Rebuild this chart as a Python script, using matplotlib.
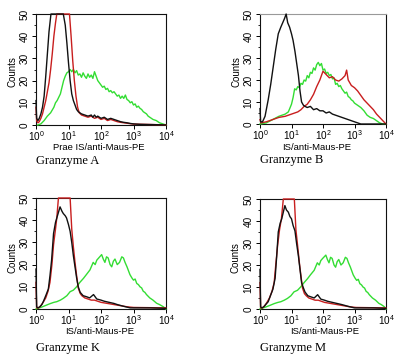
import numpy as np
import matplotlib
matplotlib.use('Agg')
import matplotlib.pyplot as plt
from matplotlib.ticker import LogLocator, NullFormatter

plt.rcParams['font.family'] = ['Liberation Sans', 'DejaVu Sans']
plt.rcParams['mathtext.default'] = 'regular'

VERDE = '#33dd33'
VERMELHO = '#c81e1e'
PRETO = '#111111'

# --- Granzyme A (log10 Intensitaet, Counts)
a_preto_lx = [0, 0.02, 0.06, 0.1, 0.15, 0.2, 0.25, 0.3, 0.35, 0.4, 0.46, 0.84, 0.9, 0.95, 1.0, 1.05, 1.1, 1.15, 1.2, 1.25,
              1.3, 1.4, 1.5, 1.6, 1.7, 1.75, 1.8, 1.85, 1.9, 2.0, 2.1, 2.2, 2.3, 2.4, 2.5, 2.6, 2.7, 2.8, 2.9, 3.0,
              3.2, 3.5, 3.8, 4.0]
a_preto_y = [11, 3, 2, 3, 5, 8, 13, 22, 32, 42, 50, 50, 45, 37, 28, 20, 14, 11, 9, 7,
             6, 5, 4.5, 4, 4.5, 3.5, 4.5, 3.5, 4, 3, 3.5, 2.5, 3, 2.5, 2, 1.5, 1.2, 1, 0.7, 0.5,
             0.3, 0.2, 0.1, 0]
a_verm_lx = [0, 0.02, 0.06, 0.1, 0.15, 0.2, 0.25, 0.3, 0.35, 0.4, 0.45, 0.5, 0.55, 0.6, 0.64, 1.03, 1.08, 1.13, 1.18, 1.23,
             1.28, 1.33, 1.4, 1.5, 1.6, 1.7, 1.8, 1.9, 2.0, 2.1, 2.2, 2.3, 2.4, 2.5, 2.6, 2.7, 2.8, 2.9, 3.0, 3.3,
             3.6, 4.0]
a_verm_y = [8, 2, 1, 1.5, 3, 5, 8, 11, 15, 19, 25, 32, 40, 46, 50, 50, 40, 29, 20, 13,
            8, 5.5, 4.5, 4, 3.5, 4, 3, 3.5, 2.5, 3, 2, 2.5, 2, 1.5, 1.2, 1, 0.8, 0.6, 0.4, 0.3,
            0.2, 0]
a_verde_lx = [0.05, 0.15, 0.25, 0.35, 0.45, 0.55, 0.6, 0.65, 0.7, 0.75, 0.8, 0.85, 0.9, 0.95, 1.0, 1.05, 1.1, 1.15, 1.2, 1.25,
              1.3, 1.35, 1.4, 1.45, 1.5, 1.55, 1.6, 1.65, 1.7, 1.75, 1.8, 1.85, 1.9, 1.95, 2.0, 2.05, 2.1, 2.15, 2.2, 2.25,
              2.3, 2.35, 2.4, 2.45, 2.5, 2.55, 2.6, 2.65, 2.7, 2.75, 2.8, 2.85, 2.9, 2.95, 3.0, 3.05, 3.1, 3.15, 3.2, 3.25,
              3.3, 3.35, 3.4, 3.45, 3.5, 3.6, 3.7, 3.8, 3.9, 4.0]
a_verde_y = [0, 0.5, 2, 4, 5.5, 8, 10, 11, 12.5, 14, 17, 20, 22, 23.5, 24, 25, 24, 25, 23.5, 24.5,
             22.5, 23, 21.5, 23.5, 22, 21, 23, 21.5, 22.5, 21, 24, 22, 20, 19, 18, 17, 17.5, 16, 16.5, 15,
             15.5, 14.5, 15, 14, 13, 13.5, 12, 13, 12, 13.5, 11.5, 11, 10, 10.5, 9, 9.5, 8, 8.5, 7.5, 7,
             6, 5.5, 5, 4, 3.5, 2.5, 2, 1, 0.5, 0]

# --- Granzyme B
b_preto_lx = [0, 0.02, 0.08, 0.16, 0.26, 0.34, 0.42, 0.5, 0.58, 0.66, 0.72, 0.78, 0.83, 0.88, 0.94, 1.0, 1.05, 1.11, 1.16, 1.22,
              1.27, 1.32, 1.38, 1.43, 1.5, 1.6, 1.7, 1.8, 1.9, 2.0, 2.1, 2.2, 2.3, 2.4, 2.5, 2.6, 2.7, 2.8, 2.9, 3.0,
              3.1, 3.2, 4.0]
b_preto_y = [7, 1, 1, 3.5, 11, 18, 26, 34, 41, 44, 46, 48, 50, 46, 44, 41, 38, 33, 28, 22,
             15, 10, 8.5, 8, 7.5, 8, 6.5, 7, 6, 6, 5, 5.5, 4.5, 4, 3.5, 3, 2.5, 2, 1.5, 1,
             0.5, 0, 0]
b_verm_lx = [0, 0.03, 0.2, 0.4, 0.6, 0.8, 1.0, 1.2, 1.3, 1.4, 1.5, 1.6, 1.7, 1.8, 1.9, 2.0, 2.1, 2.2, 2.3, 2.4,
             2.5, 2.6, 2.7, 2.75, 2.8, 2.9, 3.0, 3.1, 3.2, 3.3, 3.4, 3.5, 3.6, 3.7, 3.8, 3.9, 4.0]
b_verm_y = [2, 0.5, 1, 2, 3, 3.5, 4.5, 5.5, 6.5, 8, 9, 11, 13.5, 17, 20, 24, 22.5, 21, 21.5, 20,
            19.5, 20.5, 22, 24.5, 20, 17.5, 16.5, 15, 13, 11, 9.5, 8, 6.5, 4.5, 3, 1.5, 0]
b_verde_lx = [0, 0.2, 0.4, 0.6, 0.8, 0.9, 1.0, 1.05, 1.1, 1.15, 1.2, 1.25, 1.3, 1.35, 1.4, 1.45, 1.5, 1.55, 1.6, 1.65,
              1.7, 1.75, 1.8, 1.85, 1.9, 1.95, 2.0, 2.05, 2.1, 2.15, 2.2, 2.25, 2.3, 2.35, 2.4, 2.45, 2.5, 2.55, 2.6, 2.65,
              2.7, 2.75, 2.8, 2.85, 2.9, 2.95, 3.0, 3.1, 3.2, 3.3, 3.4, 3.5, 3.6, 3.7, 3.8, 3.9, 4.0]
b_verde_y = [0, 0.5, 2, 3.5, 4.5, 5.5, 9, 12, 16, 15.5, 17, 16.5, 18.5, 18, 20, 19.5, 22, 21, 23.5, 23,
             25.5, 24.5, 27, 28, 26.5, 27.5, 24.5, 25, 23, 23.5, 22, 22.5, 20.5, 21, 18, 18.5, 17, 17.5, 16, 15,
             14, 14.5, 12.5, 12, 11, 10.5, 9.5, 8.5, 7.5, 6, 4, 3, 2.5, 1.5, 0.5, 0, 0]

# --- Granzyme K
k_preto_lx = [0, 0.02, 0.06, 0.12, 0.18, 0.23, 0.3, 0.38, 0.43, 0.48, 0.54, 0.6, 0.64, 0.7, 0.74, 0.8, 0.84, 0.9, 0.94, 1.0,
              1.05, 1.1, 1.15, 1.2, 1.25, 1.3, 1.36, 1.45, 1.56, 1.65, 1.77, 1.87, 2.0, 2.1, 2.25, 2.4, 2.5, 2.7, 2.9, 3.2,
              3.5, 4.0]
k_preto_y = [18, 1, 0.5, 1, 2, 3.5, 6, 9, 15, 22, 34, 39, 41, 44, 46, 44, 43, 42, 41, 38,
             35, 30, 24, 19, 14, 10, 7.5, 6, 5.5, 5, 6.5, 4.5, 4, 3.5, 3, 2.5, 2, 1.2, 0.5, 0.5,
             0.5, 0.3]
k_verm_lx = [0, 0.02, 0.08, 0.15, 0.22, 0.3, 0.37, 0.43, 0.49, 0.54, 0.6, 0.64, 0.69, 1.05, 1.1, 1.15, 1.2, 1.25, 1.3, 1.36,
             1.41, 1.5, 1.6, 1.7, 1.8, 1.9, 2.0, 2.2, 2.4, 2.6, 2.8, 3.0, 3.5, 4.0]
k_verm_y = [12, 0.5, 0.5, 1.5, 3, 5, 8, 12, 20, 29, 36, 41, 50, 50, 36, 28, 21, 15, 9.5, 7,
            6, 5, 4.5, 4, 4, 3.5, 3, 2.5, 2, 1.5, 1, 0.7, 0.6, 0.5]
k_verde_lx = [0, 0.1, 0.2, 0.33, 0.45, 0.55, 0.64, 0.75, 0.84, 0.95, 1.05, 1.15, 1.25, 1.35, 1.46, 1.55, 1.66, 1.76, 1.82, 1.87,
              1.93, 2.02, 2.07, 2.12, 2.17, 2.22, 2.28, 2.33, 2.38, 2.43, 2.5, 2.57, 2.64, 2.69, 2.74, 2.8, 2.89, 2.95, 3.0, 3.05,
              3.1, 3.15, 3.2, 3.25, 3.3, 3.35, 3.4, 3.5, 3.6, 3.71, 3.8, 3.92, 4.0]
k_verde_y = [0, 0.5, 1, 1.8, 2.5, 3, 3.3, 4, 4.8, 6, 7.8, 8.5, 10, 12, 13.8, 15.5, 17.6, 21, 20, 22,
             23, 24.5, 22.5, 21, 23.5, 23, 20, 19, 21.5, 22.5, 20, 21, 23.5, 23, 21, 19, 15.5, 14, 13, 13.5,
             11.5, 11, 10, 9.5, 8, 7.5, 6.5, 5, 4, 2.6, 2, 1, 0]

# --- Granzyme M
m_preto_lx = [0, 0.02, 0.06, 0.12, 0.18, 0.26, 0.33, 0.41, 0.48, 0.53, 0.58, 0.64, 0.69, 0.74, 0.79, 0.84, 0.9, 0.95, 1.0, 1.05,
              1.11, 1.16, 1.22, 1.27, 1.32, 1.38, 1.43, 1.52, 1.62, 1.72, 1.83, 1.93, 2.05, 2.15, 2.3, 2.45, 2.6, 2.8, 3.0, 3.3,
              3.6, 4.0]
m_preto_y = [18, 1, 0.5, 1, 2, 3.3, 6, 9, 14, 24, 35, 39, 41, 44, 47, 45, 44, 42, 41, 38,
             35.5, 30, 24, 18, 12, 9.5, 7.7, 6, 5.5, 5, 6.5, 4.5, 4, 3.5, 3, 2.5, 2, 1.2, 0.5, 0.5,
             0.5, 0.3]
m_verm_lx = [0, 0.02, 0.08, 0.15, 0.22, 0.3, 0.38, 0.45, 0.5, 0.56, 0.62, 0.68, 0.74, 1.09, 1.14, 1.2, 1.25, 1.3, 1.35, 1.41,
             1.47, 1.55, 1.65, 1.75, 1.85, 1.95, 2.05, 2.25, 2.45, 2.65, 2.85, 3.05, 3.5, 4.0]
m_verm_y = [12, 0.5, 0.5, 1.5, 3, 5, 8, 12, 20, 29, 36, 41, 50, 50, 36, 28, 21, 15, 9.5, 7,
            6, 5, 4.5, 4, 4, 3.5, 3, 2.5, 2, 1.5, 1, 0.7, 0.6, 0.5]
m_verde_lx = [0, 0.1, 0.2, 0.34, 0.46, 0.57, 0.66, 0.77, 0.87, 0.98, 1.08, 1.19, 1.29, 1.4, 1.51, 1.6, 1.72, 1.82, 1.88, 1.93,
              1.99, 2.09, 2.14, 2.19, 2.24, 2.29, 2.35, 2.4, 2.45, 2.5, 2.57, 2.64, 2.71, 2.76, 2.81, 2.87, 2.96, 3.02, 3.07, 3.12,
              3.17, 3.22, 3.27, 3.32, 3.37, 3.42, 3.47, 3.57, 3.67, 3.77, 3.85, 3.95, 4.0]
m_verde_y = [0, 0.5, 1, 1.8, 2.5, 3, 3.3, 4, 4.8, 6, 7.8, 8.5, 10, 12, 13.8, 15.5, 17.6, 21, 20, 22,
             23, 24.5, 22.5, 21, 23.5, 23, 20, 19, 21.5, 22.5, 20, 21, 23.5, 23, 21, 19, 15.5, 14, 13, 13.5,
             11.5, 11, 10, 9.5, 8, 7.5, 6.5, 5, 4, 2.6, 2, 1, 0]

W, H = 404, 364
fig = plt.figure(figsize=(W / 100, H / 100), dpi=100)
fig.patch.set_facecolor('white')


def px(x, y):
    return x / W, 1 - y / H


def painel(esq, topo, dir_, base, curvas, xlabel, xlab_pos, counts_pos, legenda, leg_pos, topo_cinza=False):
    ax = fig.add_axes([esq / W, 1 - base / H, (dir_ - esq) / W, (base - topo) / H])
    for lx, y, cor in curvas:
        ax.plot(np.power(10.0, lx), y, color=cor, lw=1.0, zorder=3, clip_on=False)
    ax.set_xscale('log')
    ax.set_xlim(1, 1e4)
    ax.set_ylim(0, 50)
    ax.set_xticks([1, 10, 100, 1000, 10000])
    ax.set_xticklabels([r'$10^{%d}$' % i for i in range(5)])
    ax.xaxis.set_minor_locator(LogLocator(base=10, subs=np.arange(2, 10)))
    ax.xaxis.set_minor_formatter(NullFormatter())
    ax.set_yticks(range(0, 51, 10))
    ax.set_yticks(range(5, 50, 10), minor=True)
    ax.tick_params(which='major', length=3, width=0.7, labelsize=7.2, pad=1.5)
    ax.tick_params(axis='x', which='major', pad=0.3)
    ax.tick_params(which='minor', length=1.5, width=0.6)
    for lab in ax.get_yticklabels():
        lab.set_rotation(90)
        lab.set_va('center')
    for s in ax.spines.values():
        s.set_linewidth(0.8)
        s.set_color('#111111')
    if topo_cinza:
        ax.spines['top'].set_color('#999999')
    fig.text(*px(*xlab_pos), xlabel, fontsize=6.8, ha='center', va='center')
    fig.text(*px(*counts_pos), 'Counts', fontsize=7, rotation=90, ha='center', va='center')
    fig.text(*px(*leg_pos), legenda, fontsize=9, ha='left', va='center', family=['Liberation Serif', 'DejaVu Serif'])
    return ax


painel(36, 14, 166, 125,
       [(a_verde_lx, a_verde_y, VERDE), (a_verm_lx, a_verm_y, VERMELHO), (a_preto_lx, a_preto_y, PRETO)],
       'Prae IS/anti-Maus-PE', (99, 147.5), (13, 72), 'Granzyme A', (36, 161))
painel(260, 14, 386, 124,
       [(b_verde_lx, b_verde_y, VERDE), (b_verm_lx, b_verm_y, VERMELHO), (b_preto_lx, b_preto_y, PRETO)],
       'IS/anti-Maus-PE', (317, 147), (237, 72), 'Granzyme B', (260.5, 160.5), topo_cinza=True)
painel(36, 198, 166, 309,
       [(k_verde_lx, k_verde_y, VERDE), (k_verm_lx, k_verm_y, VERMELHO), (k_preto_lx, k_preto_y, PRETO)],
       'IS/anti-Maus-PE', (100, 332), (12, 258), 'Granzyme K', (36, 348))
painel(260, 199, 386, 309,
       [(m_verde_lx, m_verde_y, VERDE), (m_verm_lx, m_verm_y, VERMELHO), (m_preto_lx, m_preto_y, PRETO)],
       'IS/anti-Maus-PE', (325, 332), (236, 258), 'Granzyme M', (260, 347.5))

fig.savefig('out.png', dpi=100, facecolor='white')
